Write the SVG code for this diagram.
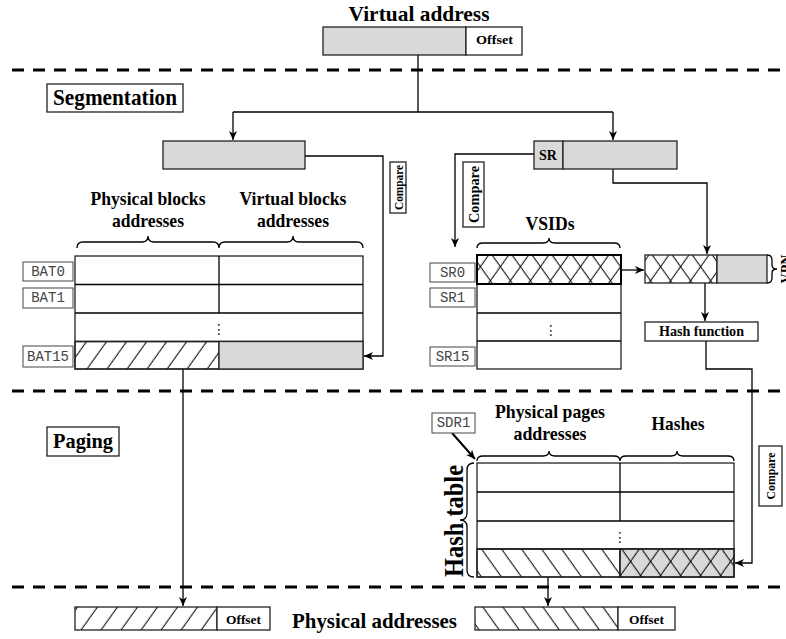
<svg xmlns="http://www.w3.org/2000/svg" width="786" height="639" viewBox="0 0 786 639">
<style>
.t{font-family:"Liberation Serif","Times New Roman",serif;font-weight:bold;fill:#000;text-anchor:middle}
.m{font-family:"Liberation Mono","Courier New",monospace;font-size:14px;fill:#444;text-anchor:middle}
.ln{fill:none;stroke:#000;stroke-width:1.3}
.ar{fill:none;stroke:#000;stroke-width:1.3;marker-end:url(#ah)}
.box{fill:#fff;stroke:#222;stroke-width:1.3}
.g{fill:#d9d9d9;stroke:#222;stroke-width:1.3}
.lbl{fill:#fff;stroke:#444;stroke-width:1}
.dash{fill:none;stroke:#000;stroke-width:3;stroke-dasharray:12 9}
.dots{font-family:"DejaVu Sans",sans-serif;font-size:14px;fill:#222;text-anchor:middle}
</style>
<defs>
<marker id="ah" markerUnits="userSpaceOnUse" markerWidth="10" markerHeight="9" refX="9" refY="4" orient="auto"><path d="M0,0 L9,4 L0,8 L2.5,4 z" fill="#000"/></marker>
<pattern id="fw" patternUnits="userSpaceOnUse" width="16.3" height="20" patternTransform="rotate(35.5)"><line x1="8" y1="0" x2="8" y2="20" stroke="#000" stroke-width="1"/></pattern>
<pattern id="bk" patternUnits="userSpaceOnUse" width="16.3" height="20" patternTransform="rotate(-35.5)"><line x1="8" y1="0" x2="8" y2="20" stroke="#000" stroke-width="1"/></pattern>
</defs>

<g id="separators">
<line class="dash" x1="12" y1="70" x2="786" y2="70"/>
<line class="dash" x1="12" y1="391" x2="786" y2="391"/>
<line class="dash" x1="12" y1="587" x2="786" y2="587"/>
</g>

<g id="connectors">
<polyline class="ln" points="418,55 418,112"/>
<polyline class="ar" points="233,112 233,140"/>
<polyline class="ln" points="233,112 613,112"/>
<polyline class="ar" points="613,112 613,140"/>
<polyline class="ar" points="305,156 383,156 383,356 364,356"/>
<polyline class="ar" points="534,154 455,154 455,247"/>
<polyline class="ar" points="613,169 613,183 707,183 707,254"/>
<polyline class="ar" points="621,270 644,270"/>
<polyline class="ar" points="705,283 705,321"/>
<polyline class="ar" points="706,341 706,369 752,369 752,563 735,563"/>
<polyline class="ar" points="183,369 183,606"/>
<polyline class="ar" points="548,577 548,606"/>
<line x1="452" y1="433" x2="475" y2="459" stroke="#000" stroke-width="2" marker-end="url(#ah)"/>
</g>

<g id="virtual-address">
<text class="t" x="419" y="21" font-size="21" textLength="141" lengthAdjust="spacingAndGlyphs">Virtual address</text>
<rect class="g" x="323" y="27" width="143" height="28"/>
<rect class="box" x="466" y="27" width="56" height="28"/>
<text class="t" x="494.5" y="44" font-size="13" textLength="37" lengthAdjust="spacingAndGlyphs">Offset</text>
</g>

<g id="segmentation-label">
<rect class="box" x="47" y="84" width="136" height="28"/>
<text class="t" x="115" y="105" font-size="23" textLength="124" lengthAdjust="spacingAndGlyphs">Segmentation</text>
</g>

<g id="bat-input">
<rect class="g" x="163" y="141" width="142" height="28"/>
</g>

<g id="compare-bat">
<rect class="box" x="390" y="162" width="16" height="51"/>
<text class="t" transform="translate(402.5,187.5) rotate(-90)" font-size="13" textLength="45" lengthAdjust="spacingAndGlyphs">Compare</text>
</g>

<g id="sr-input">
<rect class="g" x="534" y="141" width="29" height="28"/>
<rect class="g" x="563" y="141" width="114" height="28"/>
<text class="t" x="548" y="160" font-size="14">SR</text>
</g>

<g id="compare-sr">
<rect class="box" x="463" y="162" width="21" height="65"/>
<text class="t" transform="translate(479,194.5) rotate(-90)" font-size="15" textLength="57" lengthAdjust="spacingAndGlyphs">Compare</text>
</g>

<g id="bat-table">
<text class="t" x="148" y="205" font-size="19" textLength="115" lengthAdjust="spacingAndGlyphs">Physical blocks</text>
<text class="t" x="148" y="227" font-size="19" textLength="72" lengthAdjust="spacingAndGlyphs">addresses</text>
<text class="t" x="293" y="205" font-size="19" textLength="107" lengthAdjust="spacingAndGlyphs">Virtual blocks</text>
<text class="t" x="293" y="227" font-size="19" textLength="72" lengthAdjust="spacingAndGlyphs">addresses</text>
<path class="ln" d="M77,248 Q77,242 83,242 L142,242 Q148,242 148,236 Q148,242 154,242 L213,242 Q219,242 219,248 Q219,242 225,242 L287,242 Q293,242 293,236 Q293,242 299,242 L357,242 Q363,242 363,248"/>
<rect class="box" x="75" y="256" width="288" height="113"/>
<line class="ln" x1="75" y1="284.5" x2="363" y2="284.5"/>
<line class="ln" x1="75" y1="313" x2="363" y2="313"/>
<line class="ln" x1="75" y1="341.5" x2="363" y2="341.5"/>
<line class="ln" x1="219" y1="256" x2="219" y2="313"/>
<rect x="75" y="341.5" width="144" height="27.5" fill="url(#fw)" stroke="#222" stroke-width="1.3"/>
<rect class="g" x="219" y="341.5" width="144" height="27.5"/>
<text class="dots" x="219" y="334">⋮</text>
<rect class="lbl" x="23" y="262" width="50" height="19"/>
<text class="m" x="48" y="276">BAT0</text>
<rect class="lbl" x="23" y="288" width="50" height="20"/>
<text class="m" x="48" y="302">BAT1</text>
<rect class="lbl" x="23" y="346" width="50" height="21"/>
<text class="m" x="48" y="361">BAT15</text>
</g>

<g id="sr-table">
<text class="t" x="550" y="230" font-size="19" textLength="49" lengthAdjust="spacingAndGlyphs">VSIDs</text>
<path class="ln" d="M477,248 Q477,243 483,243 L543,243 Q549,243 549,238 Q549,243 555,243 L614,243 Q620,243 620,248"/>
<rect class="box" x="477" y="255" width="144" height="114"/>
<line class="ln" x1="477" y1="313" x2="621" y2="313"/>
<line class="ln" x1="477" y1="341" x2="621" y2="341"/>
<rect x="477" y="255" width="144" height="29" fill="url(#fw)"/>
<rect x="477" y="255" width="144" height="29" fill="url(#bk)" stroke="#000" stroke-width="2"/>
<text class="dots" x="551" y="335">⋮</text>
<rect class="lbl" x="430" y="263" width="45" height="19"/>
<text class="m" x="452.5" y="277">SR0</text>
<rect class="lbl" x="430" y="288" width="45" height="19"/>
<text class="m" x="452.5" y="302">SR1</text>
<rect class="lbl" x="430" y="347" width="45" height="19"/>
<text class="m" x="452.5" y="361">SR15</text>
</g>

<g id="vpn">
<rect x="645" y="255" width="72" height="28" fill="#fff"/>
<rect x="645" y="255" width="72" height="28" fill="url(#fw)"/>
<rect x="645" y="255" width="72" height="28" fill="url(#bk)" stroke="#222" stroke-width="1.3"/>
<rect class="g" x="717" y="255" width="50" height="28"/>
<path class="ln" d="M767,255 Q772,255 772,260 L772,265 Q772,269 777,269 Q772,269 772,273 L772,278 Q772,283 767,283"/>
<text class="t" transform="translate(791,269) rotate(-90)" font-size="14">VPN</text>
</g>

<g id="hash-function">
<rect class="box" x="645" y="322" width="113" height="19"/>
<text class="t" x="701.5" y="336" font-size="14" textLength="85" lengthAdjust="spacingAndGlyphs">Hash function</text>
</g>

<g id="paging-label">
<rect class="box" x="47" y="427" width="72" height="29"/>
<text class="t" x="83" y="448" font-size="22" textLength="60" lengthAdjust="spacingAndGlyphs">Paging</text>
</g>

<g id="sdr1">
<rect class="lbl" x="432" y="413" width="43" height="20"/>
<text class="m" x="453.5" y="427">SDR1</text>
</g>

<g id="compare-hash">
<rect class="box" x="759" y="446" width="23" height="60"/>
<text class="t" transform="translate(774.5,476) rotate(-90)" font-size="13" textLength="47" lengthAdjust="spacingAndGlyphs">Compare</text>
</g>

<g id="hash-table">
<text class="t" x="550" y="418" font-size="19" textLength="110" lengthAdjust="spacingAndGlyphs">Physical pages</text>
<text class="t" x="550" y="440" font-size="19" textLength="73" lengthAdjust="spacingAndGlyphs">addresses</text>
<text class="t" x="678" y="430" font-size="19" textLength="53" lengthAdjust="spacingAndGlyphs">Hashes</text>
<path class="ln" d="M477,461 Q477,456 483,456 L543,456 Q549,456 549,451 Q549,456 555,456 L614,456 Q620,456 620,461 Q620,456 626,456 L671,456 Q677,456 677,451 Q677,456 683,456 L728,456 Q734,456 734,461"/>
<rect class="box" x="477" y="463" width="257" height="114"/>
<line class="ln" x1="477" y1="492" x2="734" y2="492"/>
<line class="ln" x1="477" y1="521" x2="734" y2="521"/>
<line class="ln" x1="477" y1="549" x2="734" y2="549"/>
<line class="ln" x1="620" y1="463" x2="620" y2="521"/>
<rect x="477" y="549" width="143" height="28" fill="url(#bk)" stroke="#222" stroke-width="1.3"/>
<rect class="g" x="620" y="549" width="114" height="28"/>
<rect x="620" y="549" width="114" height="28" fill="url(#fw)"/>
<rect x="620" y="549" width="114" height="28" fill="url(#bk)" stroke="#222" stroke-width="1.3"/>
<text class="dots" x="620" y="542">⋮</text>
<path class="ln" d="M474,463 Q467,463 467,470 L467,513 Q467,520 460,520 Q467,520 467,527 L467,570 Q467,577 474,577"/>
<text class="t" transform="translate(463,521) rotate(-90)" font-size="28" textLength="112" lengthAdjust="spacingAndGlyphs">Hash table</text>
</g>

<g id="physical-address-bat">
<rect x="75" y="607" width="142" height="23" fill="url(#fw)" stroke="#222" stroke-width="1.3"/>
<rect class="box" x="217" y="607" width="53" height="23"/>
<text class="t" x="243.5" y="624" font-size="13" textLength="35" lengthAdjust="spacingAndGlyphs">Offset</text>
</g>

<g id="physical-addresses-label">
<text class="t" x="374.5" y="628" font-size="21" textLength="165" lengthAdjust="spacingAndGlyphs">Physical addresses</text>
</g>

<g id="physical-address-page">
<rect x="475" y="607" width="143" height="23" fill="url(#bk)" stroke="#222" stroke-width="1.3"/>
<rect class="box" x="618" y="607" width="57" height="23"/>
<text class="t" x="646.5" y="624" font-size="13" textLength="35" lengthAdjust="spacingAndGlyphs">Offset</text>
</g>
</svg>
